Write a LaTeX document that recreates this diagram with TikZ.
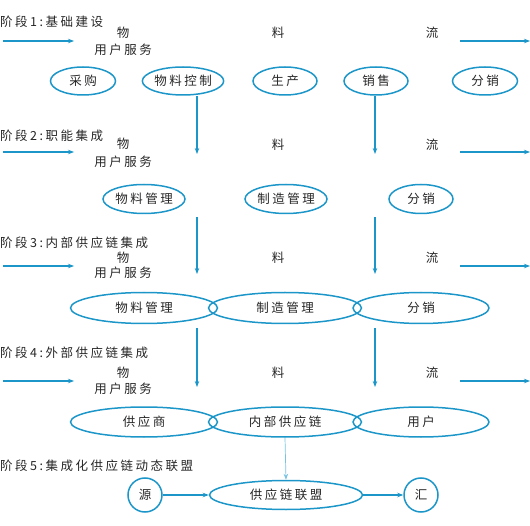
\documentclass[tikz,border=0pt]{standalone}
\usepackage{fontspec}
\newfontfamily\cjk[LetterSpace=20]{Noto Sans CJK SC}
\usetikzlibrary{shapes.geometric,arrows.meta}
\definecolor{linec}{RGB}{28,150,200}
\definecolor{lightc}{RGB}{120,195,225}
\begin{document}
\begin{tikzpicture}[x=1pt,y=-1pt,
  txt/.style={font=\cjk\fontsize{12.5}{14}\selectfont, inner sep=0pt, text=black!85},
  stagelbl/.style={txt, anchor=west},
  ell/.style={ellipse, draw=linec, line width=1.5pt, inner sep=0pt, font=\cjk\fontsize{12.5}{14}\selectfont, text=black!85},
  circ/.style={circle, draw=linec, line width=1.5pt, minimum size=34pt, inner sep=0pt, font=\cjk\fontsize{12.5}{14}\selectfont, text=black!85},
  flow/.style={draw=linec, line width=1.1pt, -{Stealth[length=6pt,width=4.5pt]}},
  vline/.style={draw=linec, line width=1.1pt, -{Stealth[length=6pt,width=4.5pt]}},
  lline/.style={draw=lightc, line width=0.7pt, -{Stealth[length=6pt,width=4.5pt]}}
]
\useasboundingbox (0,0) rectangle (530,526);

% ---------- Stage 1 ----------
\node[stagelbl] (s1) at (0,22) {阶段1:基础建设};
\node[txt] (s1w) at (123,33) {物};
\node[txt] (s1u) at (123,50) {用户服务};
\node[txt] (s1l) at (278,33) {料};
\node[txt] (s1f) at (432,33) {流};
\coordinate (a1l) at (3,41); \coordinate (a1le) at (74,41);
\coordinate (a1r) at (460,41); \coordinate (a1re) at (530,41);
\draw[flow] (a1l) -- (a1le);
\draw[flow] (a1r) -- (a1re);

\node[ell, minimum width=65pt, minimum height=28pt] (cg) at (83,81) {采购};
\node[ell, minimum width=81pt, minimum height=28pt] (wl) at (183,81) {物料控制};
\node[ell, minimum width=64pt, minimum height=28pt] (sc) at (285,81) {生产};
\node[ell, minimum width=64pt, minimum height=28pt] (xs) at (376,81) {销售};
\node[ell, minimum width=65pt, minimum height=28pt] (fx) at (485,81) {分销};

\coordinate (v1a) at (197,96); \coordinate (v1b) at (197,154);
\coordinate (v2a) at (375,96); \coordinate (v2b) at (375,154);
\draw[vline] (v1a) -- (v1b);
\draw[vline] (v2a) -- (v2b);

% ---------- Stage 2 ----------
\node[stagelbl] (s2) at (0,136) {阶段2:职能集成};
\node[txt] (s2w) at (123,144) {物};
\node[txt] (s2u) at (123,162) {用户服务};
\node[txt] (s2l) at (278,145) {料};
\node[txt] (s2f) at (432,145) {流};
\coordinate (a2l) at (3,152); \coordinate (a2le) at (74,152);
\coordinate (a2r) at (460,152); \coordinate (a2re) at (530,152);
\draw[flow] (a2l) -- (a2le);
\draw[flow] (a2r) -- (a2re);

\node[ell, minimum width=82pt, minimum height=29pt] (wg2) at (144,199) {物料管理};
\node[ell, minimum width=82pt, minimum height=29pt] (zz2) at (286,199) {制造管理};
\node[ell, minimum width=64pt, minimum height=29pt] (fx2) at (421,199) {分销};

\coordinate (v3a) at (197,217); \coordinate (v3b) at (197,274);
\coordinate (v4a) at (375,217); \coordinate (v4b) at (375,274);
\draw[vline] (v3a) -- (v3b);
\draw[vline] (v4a) -- (v4b);

% ---------- Stage 3 ----------
\node[stagelbl] (s3) at (0,243) {阶段3:内部供应链集成};
\node[txt] (s3w) at (123,258) {物};
\node[txt] (s3u) at (123,273) {用户服务};
\node[txt] (s3l) at (278,258) {料};
\node[txt] (s3f) at (432,258) {流};
\coordinate (a3l) at (3,266); \coordinate (a3le) at (74,266);
\coordinate (a3r) at (460,266); \coordinate (a3re) at (530,266);
\draw[flow] (a3l) -- (a3le);
\draw[flow] (a3r) -- (a3re);

\node[ell, minimum width=147pt, minimum height=31pt] (wg3) at (144,308) {物料管理};
\node[ell, minimum width=153pt, minimum height=31pt] (zz3) at (285,308) {制造管理};
\node[ell, minimum width=136pt, minimum height=31pt] (fx3) at (421,308) {分销};

\coordinate (v5a) at (197,328); \coordinate (v5b) at (197,387);
\coordinate (v6a) at (375,328); \coordinate (v6b) at (375,387);
\draw[vline] (v5a) -- (v5b);
\draw[vline] (v6a) -- (v6b);

% ---------- Stage 4 ----------
\node[stagelbl] (s4) at (0,353) {阶段4:外部供应链集成};
\node[txt] (s4w) at (123,373) {物};
\node[txt] (s4u) at (123,389) {用户服务};
\node[txt] (s4l) at (278,373) {料};
\node[txt] (s4f) at (432,373) {流};
\coordinate (a4l) at (3,381); \coordinate (a4le) at (74,381);
\coordinate (a4r) at (460,381); \coordinate (a4re) at (530,381);
\draw[flow] (a4l) -- (a4le);
\draw[flow] (a4r) -- (a4re);

\node[ell, minimum width=147pt, minimum height=30pt] (gys) at (144,422) {供应商};
\node[ell, minimum width=153pt, minimum height=30pt] (nb) at (285,422) {内部供应链};
\node[ell, minimum width=136pt, minimum height=30pt] (yh) at (421,422) {用户};

% ---------- Stage 5 ----------
\node[stagelbl] (s5) at (0,466) {阶段5:集成化供应链动态联盟};
\node[circ] (yuan) at (145,495) {源};
\node[ell, minimum width=153pt, minimum height=29pt] (lm) at (286,495) {供应链联盟};
\node[circ] (hui) at (421,495) {汇};

\draw[lline] (nb.south) -- (lm.north);
\draw[flow] (yuan) -- (lm);
\draw[flow] (lm) -- (hui);
\end{tikzpicture}
\end{document}
